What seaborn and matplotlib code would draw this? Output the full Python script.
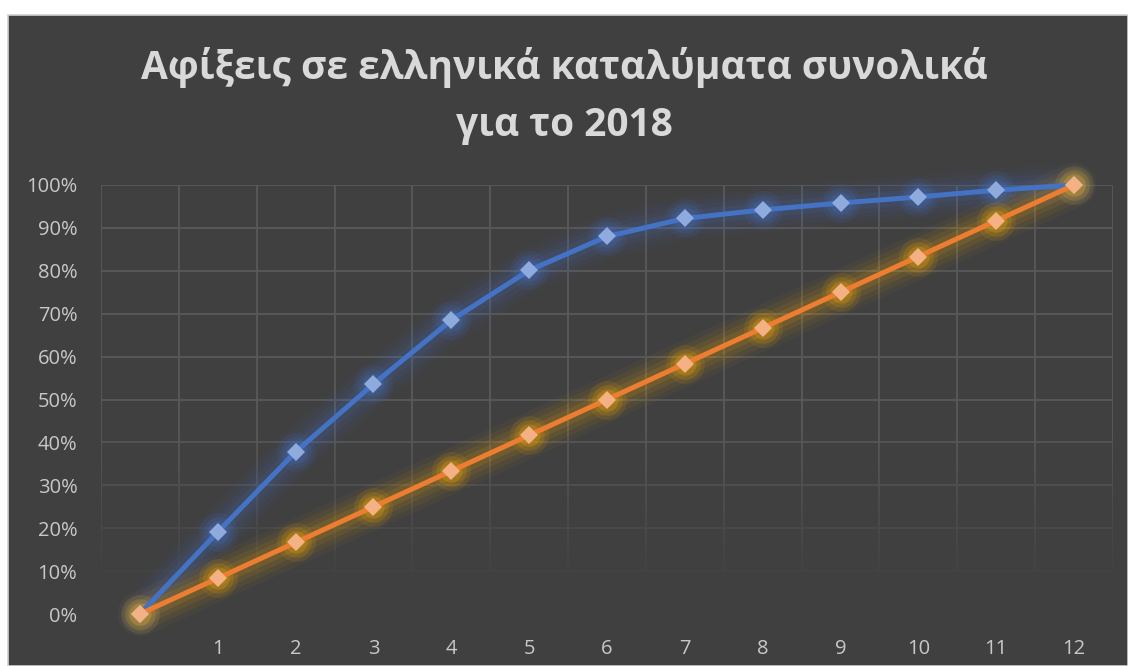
import matplotlib
matplotlib.use("Agg")
import matplotlib.pyplot as plt
from matplotlib.patches import Rectangle
from matplotlib.collections import LineCollection
from matplotlib.colors import to_rgb
from matplotlib.ticker import PercentFormatter
import seaborn as sns
import numpy as np
import pandas as pd

# Monthly cumulative share of arrivals (%)
months = list(range(0, 13))
month_labels = [""] + [str(m) for m in range(1, 13)]
arrivals_cum = [0, 19.1, 37.8, 53.6, 68.5, 80.1, 88.0, 92.2, 94.2, 95.8, 97.2, 98.8, 100]
uniform_cum = [0, 8.33, 16.67, 25.0, 33.33, 41.67, 50.0, 58.33, 66.67, 75.0, 83.33, 91.67, 100]

title_text = "Αφίξεις σε ελληνικά καταλύματα συνολικά\nγια το 2018"

sns.set_theme(style="dark")
plt.rcParams["font.family"] = ["Open Sans", "DejaVu Sans"]

BG = "#404040"
GRID = "#595959"
TXT = "#C8C8C8"

fig = plt.figure(figsize=(11.28, 6.66), dpi=100, facecolor="white")
bg = Rectangle((8 / 1128, 0), 1 - 8 / 1128, 651 / 666,
               transform=fig.transFigure, facecolor=BG,
               edgecolor="#D0D0D0", linewidth=1.2, zorder=-10)
fig.add_artist(bg)

ax = fig.add_axes([101 / 1128, 52 / 666, 1012 / 1128, 429 / 666])
ax.set_zorder(1)
ax.set_facecolor(BG)
for s in ax.spines.values():
    s.set_visible(False)

df = pd.DataFrame({"month": months, "arrivals": arrivals_cum, "uniform": uniform_cum})

# Soft glow behind each series
glows = [("arrivals", "#4472C4"), ("uniform", "#FFB000")]
for col, gc in glows:
    for lw, a in [(32, 0.04), (25, 0.06), (18, 0.08), (11, 0.11)]:
        ax.plot(df["month"], df[col], color=gc, lw=lw, alpha=a, clip_on=False,
                solid_capstyle="round", solid_joinstyle="round", zorder=2)
    for ms, a in [(28, 0.10), (22, 0.15), (16, 0.22)]:
        ax.plot(df["month"], df[col], ls="none", marker="o", ms=ms, clip_on=False,
                color=gc, alpha=a, markeredgewidth=0, zorder=2)

n_before = len(ax.lines)
sns.lineplot(data=df, x="month", y="arrivals", ax=ax, color="#4472C4", lw=3.6,
             marker="D", markersize=9.5, markerfacecolor="#8FAADC",
             markeredgewidth=0, zorder=4)
sns.lineplot(data=df, x="month", y="uniform", ax=ax, color="#ED7D31", lw=3.6,
             marker="D", markersize=9.5, markerfacecolor="#F4B183",
             markeredgewidth=0, zorder=5)
for ln in ax.lines[n_before:]:
    ln.set_clip_on(False)

ax.set_xlim(-0.5, 12.5)
ax.set_ylim(0, 100)
ax.set_xticks(months)
ax.set_xticklabels(month_labels)
ax.set_yticks(range(0, 101, 10))
ax.yaxis.set_major_formatter(PercentFormatter(decimals=0))
ax.set_xlabel("")
ax.set_ylabel("")
ax.grid(False)

# Gridlines that fade out towards the bottom of the plot area
bg_rgb = np.array(to_rgb(BG))
grid_rgb = np.array(to_rgb(GRID))


def grid_colour(y):
    w = 1 - np.clip((44 - y) / 38, 0, 0.97)
    return bg_rgb + (grid_rgb - bg_rgb) * w


ys = np.linspace(0, 100, 201)
segs, cols = [], []
for xv in [m - 0.5 for m in months] + [12.5]:
    for y0, y1 in zip(ys[:-1], ys[1:]):
        segs.append([(xv, y0), (xv, y1)])
        cols.append(grid_colour((y0 + y1) / 2))
ax.add_collection(LineCollection(segs, colors=cols, linewidths=1.3,
                                 capstyle="butt", zorder=1))
for yv in range(10, 101, 10):
    ax.axhline(yv, color=grid_colour(yv), lw=1.3, zorder=1.1)

ax.tick_params(axis="both", length=0, colors=TXT, labelsize=14.5)
ax.tick_params(axis="x", pad=18)
ax.tick_params(axis="y", pad=17)

fig.text(0.5, 1 - 96 / 666, title_text, ha="center", va="center",
         fontsize=28, fontweight="bold", color="#D9D9D9", linespacing=1.6)

fig.savefig("out.png", dpi=100, facecolor="white")
